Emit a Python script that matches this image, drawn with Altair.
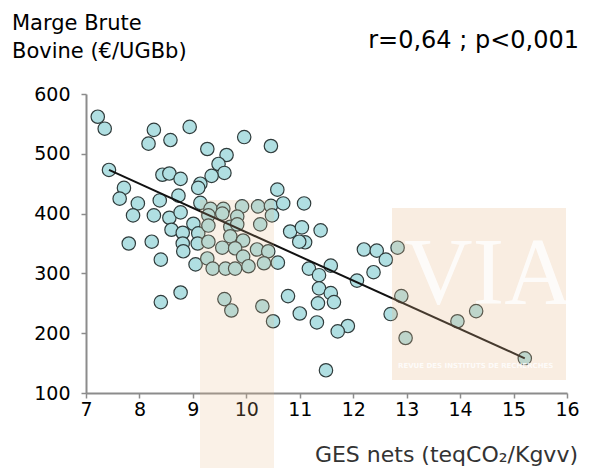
import altair as alt
import pandas as pd

# GES nets (teqCO2/Kgvv) and Marge Brute Bovine (€/UGBb)
ges = [7.22, 7.35, 8.27, 8.17, 8.58, 8.94, 9.27, 7.43, 8.43, 8.56,
       8.77, 7.71, 7.63, 7.97, 8.38, 8.73, 9.14, 9.10, 9.14, 9.96,
       10.46, 9.63, 9.48, 9.59, 9.35, 10.58, 9.33, 9.57, 9.92, 10.22,
       10.46, 10.69, 11.08, 7.88, 8.27, 8.56, 8.77, 9.01, 8.60, 8.81,
       9.10, 7.80, 8.23, 8.81, 9.09, 8.82, 8.40, 9.05, 8.77, 8.40,
       9.29, 9.55, 9.83, 10.48, 10.26, 9.70, 9.83, 9.29, 10.82, 11.04,
       11.10, 9.70, 9.94, 9.29, 9.55, 9.79, 10.20, 10.41, 9.27, 9.94,
       9.37, 9.61, 9.79, 10.04, 10.33, 10.59, 11.17, 9.59, 10.78, 9.72,
       10.30, 10.50, 11.00, 10.99, 11.39, 12.20, 12.44, 12.61, 12.83, 11.58,
       11.36, 12.38, 12.07, 11.36, 11.58, 12.90, 11.64, 11.34, 11.32, 11.90,
       11.71, 11.49, 12.70, 12.98, 13.95, 14.30, 15.21]
mb = [562, 542, 540, 517, 523, 545, 508, 473, 465, 467,
      458, 443, 425, 417, 422, 430, 450, 443, 418, 528,
      513, 498, 483, 468, 463, 440, 408, 408, 412, 412,
      413, 417, 417, 397, 397, 393, 402, 383, 373, 368,
      367, 350, 353, 350, 350, 337, 323, 315, 268, 252,
      397, 400, 395, 397, 382, 378, 382, 380, 370, 377,
      352, 362, 355, 353, 343, 342, 340, 337, 325, 328,
      308, 308, 308, 312, 317, 318, 308, 257, 262, 238,
      245, 220, 233, 353, 372, 340, 338, 323, 343, 313,
      297, 302, 288, 275, 267, 262, 252, 250, 218, 212,
      203, 138, 232, 192, 220, 237, 158]

# regression line end points
line_x = [7.43, 15.21]
line_y = [473, 158]

x_ticks = list(range(7, 17))
y_ticks = list(range(100, 601, 50))

FONT = "DejaVu Sans"
AXIS_GREY = "#8c8c8c"

pts = pd.DataFrame({"ges": ges, "mb": mb})
line_df = pd.DataFrame({"ges": line_x, "mb": line_y})

xs = alt.Scale(domain=[7, 16], nice=False, zero=False)
ys = alt.Scale(domain=[100, 600], nice=False, zero=False)

x_axis = alt.Axis(values=x_ticks, format="d", title=None, grid=False, tickSize=5,
                  tickColor=AXIS_GREY, tickWidth=1.5, domainColor=AXIS_GREY,
                  domainWidth=2, labelFont=FONT, labelFontSize=19,
                  labelColor="black", labelPadding=2, labelFlush=False,
                  labelOverlap=False)
y_axis = alt.Axis(values=y_ticks, format="d", title=None, grid=False, tickSize=5,
                  tickColor=AXIS_GREY, tickWidth=1.5, domainColor=AXIS_GREY,
                  domainWidth=2, labelFont=FONT, labelFontSize=19,
                  labelColor="black", labelPadding=11, labelFlush=False,
                  labelOverlap=False,
                  labelExpr="datum.value % 100 == 0 ? datum.label : ''")

points = alt.Chart(pts).mark_circle(
    size=180, fill="#b0dfe2", stroke="#2f3b3b", strokeWidth=1.2, opacity=1
).encode(
    x=alt.X("ges:Q", scale=xs, axis=x_axis),
    y=alt.Y("mb:Q", scale=ys, axis=y_axis),
)

reg = alt.Chart(line_df).mark_line(color="#111111", strokeWidth=2).encode(
    x=alt.X("ges:Q", scale=xs),
    y=alt.Y("mb:Q", scale=ys),
)

one = alt.Data(values=[{"k": 1}])

band_a = alt.Chart(one).mark_rect(color="#e8b888", opacity=0.2).encode(
    x=alt.value(114), x2=alt.value(188), y=alt.value(106), y2=alt.value(382))
band_b = alt.Chart(one).mark_rect(color="#e8b888", opacity=0.25).encode(
    x=alt.value(306), x2=alt.value(480), y=alt.value(114), y2=alt.value(286))

via = alt.Chart(one).mark_text(
    text="VIA", font="Liberation Serif", fontSize=95, color="white",
    opacity=0.8, align="left", baseline="alphabetic"
).encode(x=alt.value(318), y=alt.value(210))

revue = alt.Chart(one).mark_text(
    text="REVUE DES INSTITUTS DE RECHERCHES", font=FONT, fontSize=7,
    fontWeight="bold", color="white", opacity=0.8, align="left",
    baseline="middle"
).encode(x=alt.value(312), y=alt.value(272))

def label(txt, x, y, size, align="left", color="black"):
    return alt.Chart(one).mark_text(
        text=txt, font=FONT, fontSize=size, color=color, align=align,
        baseline="alphabetic"
    ).encode(x=alt.value(x), y=alt.value(y))

t1 = label("Marge Brute", -74, -64, 21)
t2 = label("Bovine (€/UGBb)", -74, -36, 21)
rr = label("r=0,64 ; p<0,001", 493, -46, 24, align="right")
xt = label("GES nets (teqCO₂/Kgvv)", 492, 368, 22, align="right", color="#333333")

chart = alt.layer(
    points, reg, band_a, band_b, via, revue, t1, t2, rr, xt
).properties(
    width=481, height=299,
    autosize=alt.AutoSizeParams(type="none"),
    padding={"left": 78, "top": 86, "right": 14, "bottom": 75},
).configure_view(stroke=None)

chart.save("out.html", embed_options={"renderer": "svg", "actions": False})
